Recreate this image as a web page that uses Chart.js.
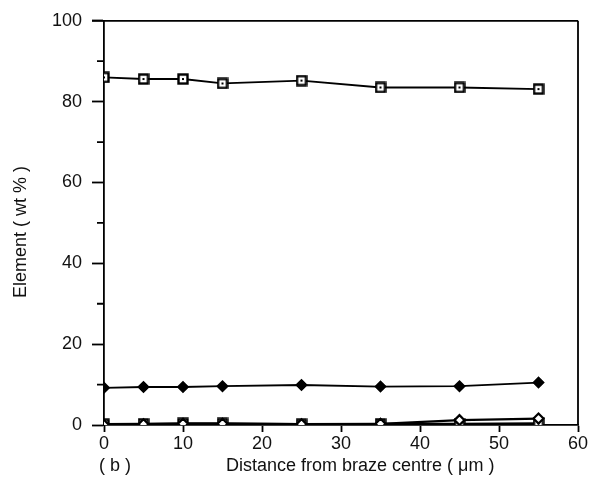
<!DOCTYPE html>
<html>
<head>
<meta charset="utf-8">
<script src="https://cdn.jsdelivr.net/npm/chart.js@4/dist/chart.umd.min.js"></script>
<style>
html,body{margin:0;padding:0;background:#fff;}
#wrap{width:599px;height:496px;}
</style>
</head>
<body>
<div id="wrap"><canvas id="c" width="599" height="496"></canvas></div>
<script>
const xValues = [0, 5, 10, 15, 25, 35, 45, 55];
const seriesTop = [86, 85.6, 85.6, 84.5, 85.2, 83.5, 83.5, 83.1];
const seriesFilled = [9.2, 9.4, 9.4, 9.6, 9.9, 9.5, 9.6, 10.5];
const seriesLowSquare = [0.2, 0.3, 0.4, 0.4, 0.2, 0.3, 0.3, 0.4];
const seriesLowDiamond = [0, 0.2, 0.3, 0.3, 0.2, 0.3, 1.2, 1.6];
const xTickValues = [0, 10, 20, 30, 40, 50, 60];
const yTickValues = [0, 20, 40, 60, 80, 100];
const yMinorTicks = [10, 30, 50, 70, 90];
const xTitle = 'Distance from braze centre ( \u03bcm )';
const yTitle = 'Element ( wt % )';
const panelLabel = '( b )';

const FONT = '"Liberation Sans", Arial, sans-serif';

function toPoints(ys){ return xValues.map((x,i)=>({x:x,y:ys[i]})); }

// hollow square marker with a dot
const sq = document.createElement('canvas');
sq.width = 12; sq.height = 12;
(function(){
  const g = sq.getContext('2d');
  g.fillStyle = '#fff'; g.fillRect(1,1,10,10);
  g.strokeStyle = '#000'; g.lineWidth = 2.4; g.strokeRect(1.5,1.5,9,9);
  g.fillStyle = '#000'; g.fillRect(5,5,2,2);
})();

const extras = {
  id: 'extras',
  afterDraw(chart){
    const ctx = chart.ctx, a = chart.chartArea;
    const ys = chart.scales.y;
    ctx.save();
    ctx.strokeStyle = '#000';
    ctx.lineWidth = 1.8;
    ctx.beginPath();
    ctx.moveTo(a.left - 12, a.top); ctx.lineTo(a.right, a.top);
    ctx.moveTo(a.right, a.top); ctx.lineTo(a.right, a.bottom);
    ctx.stroke();
    ctx.beginPath();
    yMinorTicks.forEach(v=>{
      const p = ys.getPixelForValue(v);
      ctx.moveTo(a.left - 7, p); ctx.lineTo(a.left, p);
    });
    ctx.stroke();
    ctx.fillStyle = '#111';
    ctx.font = '18px ' + FONT;
    ctx.textBaseline = 'middle';
    ctx.textAlign = 'left';
    ctx.fillText(panelLabel, 99, 466);
    ctx.fillText(xTitle, 226, 466);
    ctx.translate(21, 232);
    ctx.rotate(-Math.PI/2);
    ctx.textAlign = 'center';
    ctx.fillText(yTitle, 0, 0);
    ctx.restore();
  }
};

new Chart(document.getElementById('c'), {
  type: 'line',
  data: {
    datasets: [
      { data: toPoints(seriesTop), borderColor:'#000', borderWidth:1.8, pointStyle: sq, pointRadius:6, tension:0 },
      { data: toPoints(seriesFilled), borderColor:'#000', borderWidth:1.8, pointStyle:'rectRot', pointRadius:5, pointBackgroundColor:'#000', pointBorderColor:'#000', tension:0 },
      { data: toPoints(seriesLowDiamond), borderColor:'#000', borderWidth:2.2, pointStyle:'rectRot', pointRadius:5, pointBackgroundColor:'#fff', pointBorderColor:'#000', pointBorderWidth:2.2, tension:0 },
      { data: toPoints(seriesLowSquare), borderColor:'#000', borderWidth:2.2, pointStyle: sq, pointRadius:6, tension:0 }
    ]
  },
  options: {
    responsive:false,
    animation:false,
    layout:{ padding:{ top:18, right:21, left:0, bottom:0 } },
    plugins:{ legend:{display:false}, tooltip:{enabled:false} },
    scales:{
      x:{
        type:'linear', min:0, max:60,
        afterBuildTicks: s => { s.ticks = xTickValues.map(v=>({value:v})); },
        afterFit: s => { s.height = 71; },
        ticks:{ color:'#111', font:{family:FONT, size:18}, padding:1, maxRotation:0 },
        grid:{ drawOnChartArea:false, tickLength:7, color:'#000', tickWidth:1.8 },
        border:{ color:'#000', width:1.8 }
      },
      y:{
        type:'linear', min:0, max:100,
        afterBuildTicks: s => { s.ticks = yTickValues.map(v=>({value:v})); },
        afterFit: s => { s.width = 104; },
        ticks:{ color:'#111', font:{family:FONT, size:18}, padding:10 },
        grid:{ drawOnChartArea:false, tickLength:12, color:'#000', tickWidth:1.8 },
        border:{ color:'#000', width:1.8 }
      }
    }
  },
  plugins:[extras]
});
</script>
</body>
</html>
